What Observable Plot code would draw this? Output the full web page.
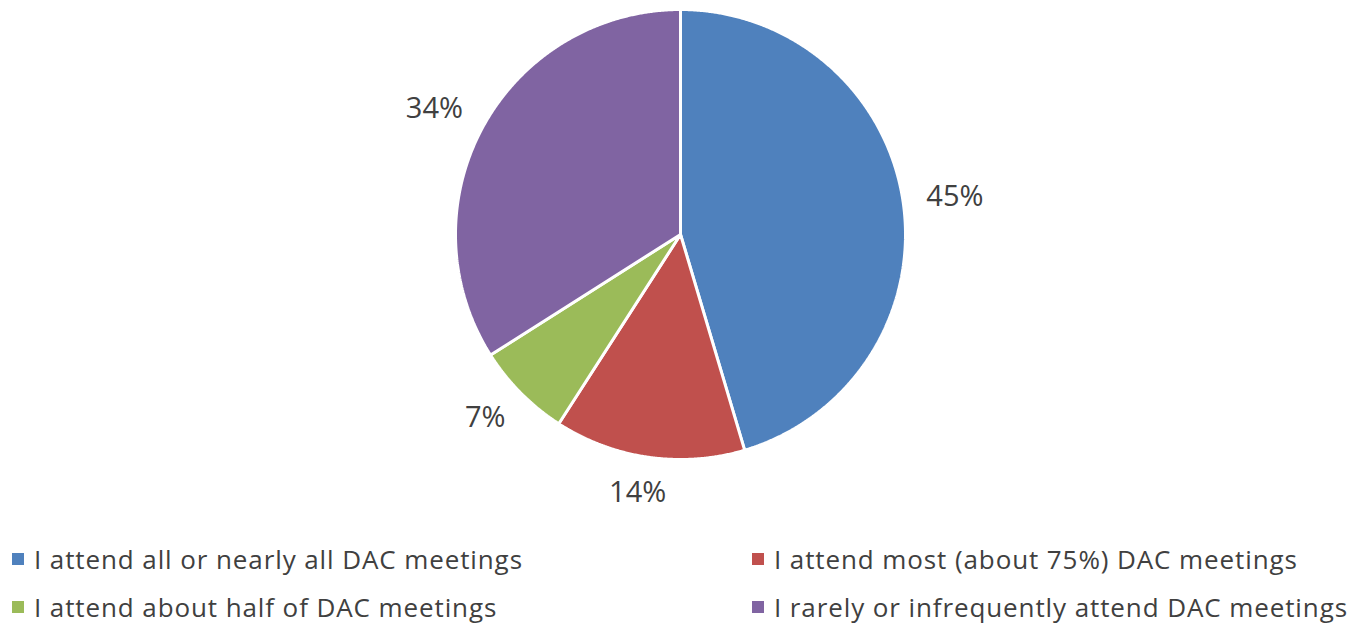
<!DOCTYPE html>
<html><head><meta charset="utf-8">
<script src="https://cdn.jsdelivr.net/npm/d3@7"></script>
<script src="https://cdn.jsdelivr.net/npm/@observablehq/plot@0.6"></script>
<style>
body{margin:0;background:#fff;font-family:"Open Sans",sans-serif;}
#chart{position:relative;width:1359px;height:625px;overflow:hidden;}
#chart svg{position:absolute;left:0;top:0;}
.leg{position:absolute;height:30px;line-height:30px;display:flex;align-items:center;font-size:26px;letter-spacing:0.9px;color:#404040;white-space:nowrap;}
.sw{width:12px;height:12px;margin-right:10px;flex:none;}
</style></head><body><div id="chart"></div>
<script>
const categories = [
  "I attend all or nearly all DAC meetings",
  "I attend most (about 75%) DAC meetings",
  "I attend about half of DAC meetings",
  "I rarely or infrequently attend DAC meetings"
];
// shares (labels show them rounded)
const values = [45.4, 13.7, 6.9, 34.0];
const colors = ["#4F81BD", "#C0504D", "#9BBB59", "#8064A2"];

const W = 1359, H = 530;
const cx = 680, cy = 234, R = 225;

const total = d3.sum(values);
const labels = values.map(v => Math.round(v / total * 100) + "%");
let acc = 0;
const slices = categories.map((c, i) => {
  const a0 = acc / total * 2 * Math.PI;
  acc += values[i];
  const a1 = acc / total * 2 * Math.PI;
  return {c, i, a0, a1};
});

const pts = [];
slices.forEach(s => {
  pts.push({c: s.c, x: 0, y: 0});
  const n = Math.max(2, Math.ceil((s.a1 - s.a0) / 0.005));
  for (let k = 0; k <= n; k++) {
    const a = s.a0 + (s.a1 - s.a0) * k / n;
    pts.push({c: s.c, x: Math.sin(a), y: Math.cos(a)});
  }
  pts.push({c: s.c, x: 0, y: 0});
});

const clamp = v => Math.max(-1, Math.min(1, v));
const labelData = slices.map(s => {
  const m = (s.a0 + s.a1) / 2;
  const sx = Math.sin(m), sy = Math.cos(m);
  const hw = labels[s.i].length * 9, hh = 10.5;
  const px = sx * (R + 25) + clamp(sx * 2) * hw;
  const py = sy * (R + 25) + sy * hh;
  return {x: px / R, y: py / R, t: labels[s.i]};
});

const plot = Plot.plot({
  width: W, height: H,
  marginLeft: cx - R, marginRight: W - (cx + R),
  marginTop: cy - R, marginBottom: H - (cy + R),
  x: {domain: [-1, 1], axis: null},
  y: {domain: [-1, 1], axis: null},
  color: {domain: categories, range: colors},
  style: {fontFamily: "'Open Sans', sans-serif", background: "white", overflow: "visible"},
  marks: [
    Plot.line(pts, {x: "x", y: "y", z: "c", fill: "c", stroke: "white", strokeWidth: 3, strokeLinejoin: "miter", curve: "linear"}),
    Plot.text(labelData, {x: "x", y: "y", text: "t", fill: "#404040", fontSize: 29, textAnchor: "middle", lineAnchor: "middle"})
  ]
});
const chart = document.getElementById("chart");
chart.appendChild(plot);

const pos = [[12, 544], [752, 544], [12, 592], [752, 592]];
categories.forEach((c, i) => {
  const d = document.createElement("div");
  d.className = "leg";
  d.style.left = pos[i][0] + "px";
  d.style.top = pos[i][1] + "px";
  const sw = document.createElement("span");
  sw.className = "sw";
  sw.style.background = colors[i];
  const t = document.createElement("span");
  t.textContent = c;
  d.appendChild(sw); d.appendChild(t);
  chart.appendChild(d);
});
</script></body></html>
